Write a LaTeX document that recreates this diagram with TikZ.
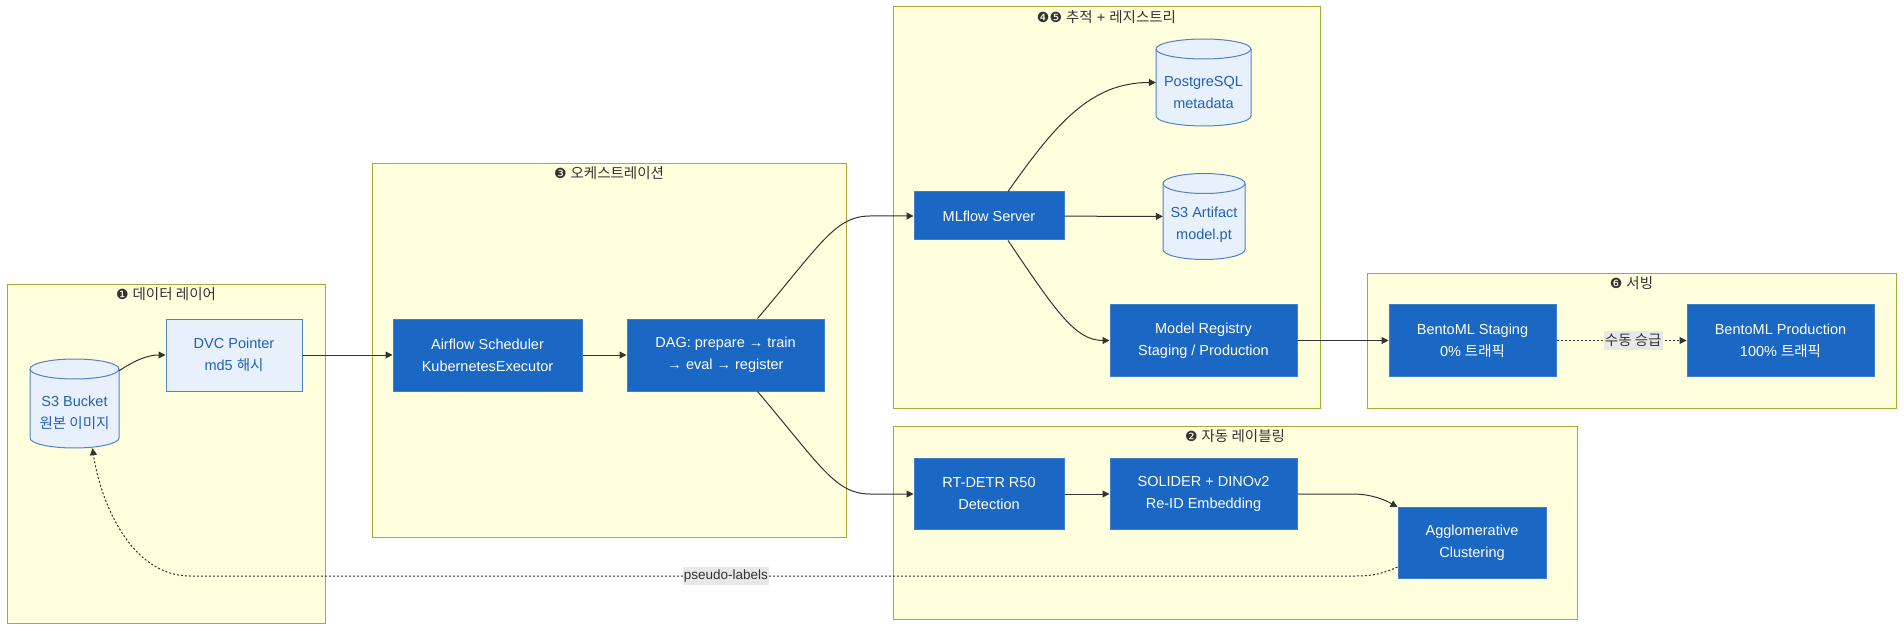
\documentclass[tikz,border=0pt]{standalone}
\usepackage{fontspec}
\setmainfont{Liberation Sans}
\newfontfamily\kr{Noto Sans CJK KR}
\newfontfamily\symf{DejaVu Sans}
\usetikzlibrary{arrows.meta}
\definecolor{clusterFill}{HTML}{FFFFDE}
\definecolor{clusterBorder}{HTML}{AAAA33}
\definecolor{blueFill}{HTML}{1B67C4}
\definecolor{blueBorder}{HTML}{3F7ECC}
\definecolor{lightFill}{HTML}{E8F0FB}
\definecolor{lightBorder}{HTML}{4F83C6}
\definecolor{lightText}{HTML}{1F62B5}
\definecolor{textDark}{HTML}{333333}
\definecolor{edgeCol}{HTML}{333333}
\definecolor{labelBg}{HTML}{E8E8E8}
\newcommand\cylshape[4]{%
  \path[cylfill] (#1-#3, #2-#4+10) -- (#1-#3, #2+#4-10)
    arc[start angle=180, end angle=360, x radius=#3pt, y radius=10pt]
    -- (#1+#3, #2-#4+10)
    arc[start angle=0, end angle=180, x radius=#3pt, y radius=10pt] -- cycle;
  \draw[cylline] (#1-#3, #2-#4+10)
    arc[start angle=180, end angle=360, x radius=#3pt, y radius=10pt];}
\newcommand\num[1]{{\symf\fontsize{14}{14}\selectfont #1}}
\tikzset{
  cluster/.style={draw=clusterBorder, fill=clusterFill, line width=1pt, inner sep=0pt},
  ctitle/.style={text=textDark, font=\fontsize{14.5}{18}\selectfont, anchor=base, inner sep=0pt},
  bluebox/.style={draw=blueBorder, fill=blueFill, text=white, align=center, inner sep=0pt,
    font=\fontsize{14.5}{22}\selectfont, line width=1pt},
  lightbox/.style={draw=lightBorder, fill=lightFill, text=lightText, align=center, inner sep=0pt,
    font=\fontsize{14.5}{22}\selectfont, line width=1pt},
  cylfill/.style={draw=lightBorder, fill=lightFill, line width=1pt},
  cylline/.style={draw=lightBorder, line width=1pt},
  cylnode/.style={inner sep=0pt},
  cyltext/.style={text=lightText, align=center, inner sep=0pt, font=\fontsize{14.5}{22}\selectfont},
  edge/.style={draw=edgeCol, line width=1pt, -{Triangle[length=7pt,width=7pt]}},
  dotedge/.style={edge, dash pattern=on 2pt off 2pt},
  elabel/.style={fill=labelBg, text=textDark, inner xsep=1pt, inner ysep=3pt, solid,
    font=\fontsize{14.5}{16}\selectfont}
}
\begin{document}
\begin{tikzpicture}[x=1pt,y=-1pt]
\useasboundingbox[fill=white] (0,0) rectangle (1904,631);

% clusters
\node[cluster, minimum width=318pt, minimum height=339pt] (c1) at (166,453.5) {};
\node[ctitle] (c1t) at (166,299) {\num{❶} {\kr 데이터 레이어}};
\node[cluster, minimum width=474pt, minimum height=373pt] (c3) at (609,350.5) {};
\node[ctitle] (c3t) at (609,179) {\num{❸} {\kr 오케스트레이션}};
\node[cluster, minimum width=427pt, minimum height=401pt] (c45) at (1106.5,207.5) {};
\node[ctitle] (c45t) at (1106.5,23) {\num{❹❺} {\kr 추적} + {\kr 레지스트리}};
\node[cluster, minimum width=529pt, minimum height=135pt] (c6) at (1631.5,340.5) {};
\node[ctitle] (c6t) at (1631.5,288) {\num{❻} {\kr 서빙}};
\node[cluster, minimum width=684pt, minimum height=193pt] (c2) at (1235,522.5) {};
\node[ctitle] (c2t) at (1235,441) {\num{❷} {\kr 자동 레이블링}};

% cylinders
\cylshape{74.5}{403.5}{44.5}{44.5}
\node[cylnode, minimum width=89pt, minimum height=89pt,
  label={[cyltext, yshift=-9.5pt]center:{S3 Bucket\\{\kr 원본 이미지}}}] (s3) at (74.5,403.5) {};
\cylshape{1203.5}{82.5}{47.5}{43.5}
\node[cylnode, minimum width=95pt, minimum height=87pt,
  label={[cyltext, yshift=-10pt]center:{PostgreSQL\\metadata}}] (pg) at (1203.5,82.5) {};
\cylshape{1204}{216.5}{41}{43}
\node[cylnode, minimum width=82pt, minimum height=86pt,
  label={[cyltext, yshift=-8.5pt]center:{S3 Artifact\\model.pt}}] (s3art) at (1204,216.5) {};

% boxes
\node[lightbox, minimum width=136pt, minimum height=72pt] (dvc) at (234,355) {DVC Pointer\\md5 {\kr 해시}};
\node[bluebox, minimum width=189pt, minimum height=72pt] (airflow) at (487.5,355) {Airflow Scheduler\\KubernetesExecutor};
\node[bluebox, minimum width=197pt, minimum height=72pt] (dag) at (725.5,355) {DAG: prepare → train\\→ eval → register};
\node[bluebox, minimum width=150pt, minimum height=48pt] (mlflow) at (989,216) {MLflow Server};
\node[bluebox, minimum width=187pt, minimum height=72pt] (registry) at (1203.5,340.5) {Model Registry\\Staging / Production};
\node[bluebox, minimum width=167pt, minimum height=72pt] (staging) at (1472.5,340.5) {BentoML Staging\\0\% {\kr 트래픽}};
\node[bluebox, minimum width=187pt, minimum height=72pt] (prod) at (1780.5,340.5) {BentoML Production\\100\% {\kr 트래픽}};
\node[bluebox, minimum width=150pt, minimum height=71pt] (rtdetr) at (989,494) {RT-DETR R50\\Detection};
\node[bluebox, minimum width=187pt, minimum height=71pt] (solider) at (1203.5,494) {SOLIDER + DINOv2\\Re-ID Embedding};
\node[bluebox, minimum width=148pt, minimum height=71pt] (agglom) at (1472,543) {Agglomerative\\Clustering};

% connectors
\draw[edge] ([yshift=-12pt]s3.north east) .. controls (135,360) and (148,355) .. (dvc.west);
\draw[edge] (dvc) -- (airflow);
\draw[edge] (airflow) -- (dag);
\draw[edge] ([xshift=32pt]dag.north) .. controls (820,245) and (835,216) .. (870,216) -- (mlflow.west);
\draw[edge] ([xshift=32pt]dag.south) .. controls (820,465) and (835,494) .. (870,494) -- (rtdetr.west);
\draw[edge] ([xshift=19pt]mlflow.north) .. controls (1055,125) and (1090,82.5) .. (pg.west);
\draw[edge] (mlflow) -- (s3art);
\draw[edge] ([xshift=19pt]mlflow.south) .. controls (1055,310) and (1075,340.5) .. (registry.west);
\draw[edge] (registry) -- (staging);
\draw[dotedge] (staging) -- node[elabel, pos=0.59] {{\kr 수동 승급}} (prod);
\draw[edge] (rtdetr) -- (solider);
\draw[edge] (solider.east) -- (1352,494) .. controls (1372,494) and (1385,500) .. (agglom.north west);
\draw[dotedge] ([yshift=-24pt]agglom.west) .. controls (1382,574) and (1372,576) .. (1355,576)
  -- node[elabel, pos=0.54, font=\fontsize{13.5}{16}\selectfont] {pseudo-labels} (190,576)
  .. controls (130,576) and (100,500) .. ([xshift=18pt]s3.south);
\end{tikzpicture}
\end{document}
